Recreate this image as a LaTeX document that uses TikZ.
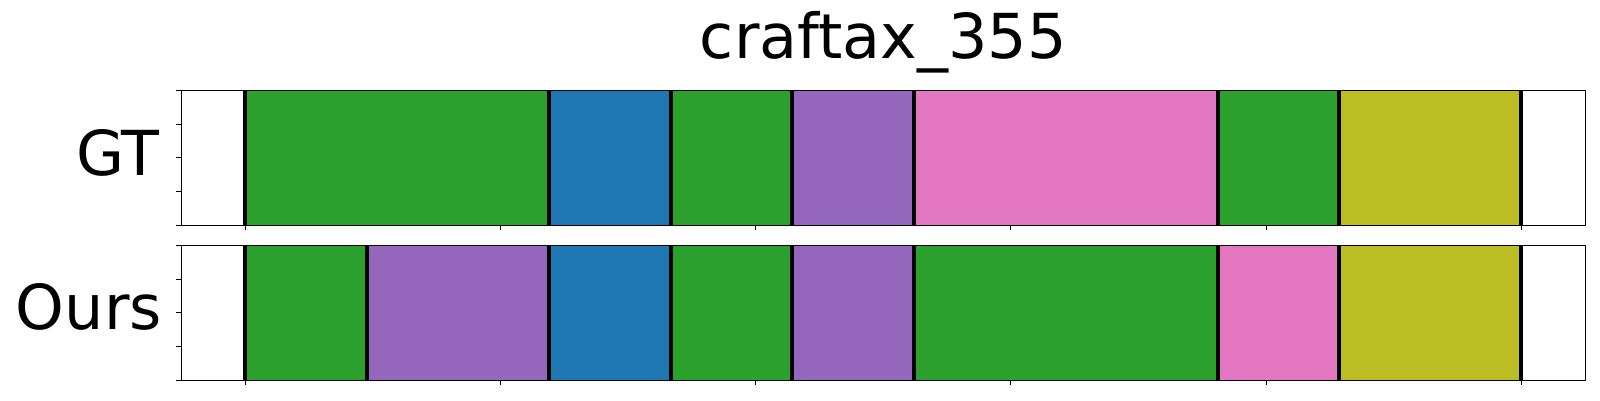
\documentclass[tikz,border=0pt]{standalone}
\usepackage{fontspec}
\setmainfont{DejaVu Sans}
\definecolor{tgreen}{HTML}{2CA02C}
\definecolor{tblue}{HTML}{1F77B4}
\definecolor{tpurple}{HTML}{9467BD}
\definecolor{tpink}{HTML}{E377C2}
\definecolor{tolive}{HTML}{BCBD22}
\begin{document}
\begin{tikzpicture}[x=1pt,y=-1pt,
  spine/.style={draw=black,line width=1.3pt},
  sepline/.style={draw=black,line width=4pt},
  tickmark/.style={draw=black,line width=1pt},
  lab/.style={inner sep=0pt,font=\fontsize{62}{64}\selectfont},
  ttl/.style={inner sep=0pt,font=\fontsize{62}{64}\selectfont}]
\useasboundingbox (0,0) rectangle (1600,400);
\def\xz{245.3}\def\un{60.762}
\def\axl{181.3}\def\axr{1585.3}
% GT panel: top 90.3, bottom 225.3
\foreach \a/\b/\c in {0/5/tgreen,5/7/tblue,7/9/tgreen,9/11/tpurple,11/16/tpink,16/18/tgreen,18/21/tolive}
  \fill[\c] ({\xz+\a*\un},90.3) rectangle ({\xz+\b*\un},225.3);
% Ours panel: top 245.3, bottom 380.3
\foreach \a/\b/\c in {0/2/tgreen,2/5/tpurple,5/7/tblue,7/9/tgreen,9/11/tpurple,11/16/tgreen,16/18/tpink,18/21/tolive}
  \fill[\c] ({\xz+\a*\un},245.3) rectangle ({\xz+\b*\un},380.3);
% separators
\foreach \k in {0,5,7,9,11,16,18,21}
  \draw[sepline] ({\xz+\k*\un},90.3) -- ({\xz+\k*\un},225.3);
\foreach \k in {0,2,5,7,9,11,16,18,21}
  \draw[sepline] ({\xz+\k*\un},245.3) -- ({\xz+\k*\un},380.3);
% frames
\draw[spine] (\axl,90.3) rectangle (\axr,225.3);
\draw[spine] (\axl,245.3) rectangle (\axr,380.3);
% ticks
\foreach \j in {0,...,5}{
  \draw[tickmark] ({\xz+\j*255.2},225.3) -- ++(0,5);
  \draw[tickmark] ({\xz+\j*255.2},380.3) -- ++(0,5);
}
\foreach \j in {0,...,4}{
  \draw[tickmark] (\axl,{90.3+\j*33.75}) -- ++(-5,0);
  \draw[tickmark] (\axl,{245.3+\j*33.75}) -- ++(-5,0);
}
% texts
\node[ttl,anchor=base] (title) at (883.3,58) {craftax\_355};
\node[lab,anchor=base east] (gt) at (160,175) {GT};
\node[lab,anchor=base east] (ours) at (162,329) {Ours};
\end{tikzpicture}
\end{document}
